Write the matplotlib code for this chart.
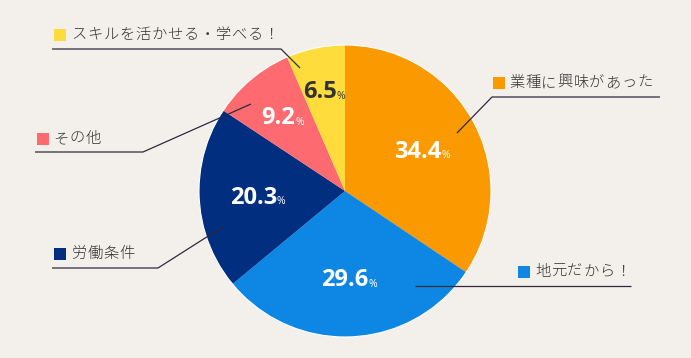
import numpy as np
import matplotlib
matplotlib.use('Agg')
import matplotlib.pyplot as plt
from matplotlib.patches import Rectangle, Circle

# data
labels = ['業種に興味があった', '地元だから！', '労働条件', 'その他', 'スキルを活かせる・学べる！']
values = [34.4, 29.6, 20.3, 9.2, 6.5]
colors = ['#fb9a00', '#0d87e3', '#022e80', '#fd6a6f', '#fedc3c']
pct_colors = ['white', 'white', 'white', 'white', '#333333']

W, H = 691, 358
BG = '#f3efeb'
LINE = '#2d2a40'

def py(y):
    # pixel row -> data y
    return H - y

fig = plt.figure(figsize=(W / 100, H / 100), dpi=100)
fig.patch.set_facecolor(BG)
ax = fig.add_axes([0, 0, 1, 1])
ax.set_facecolor(BG)

cx, cy, r = 345, py(191), 146
wedges, _ = ax.pie(values, colors=colors, startangle=90, counterclock=False,
                   center=(cx, cy), radius=r, wedgeprops=dict(linewidth=0))
ax.add_patch(Circle((cx, cy), r, fill=False, edgecolor='white', lw=0.8, zorder=3))
ax.set_xlim(0, W)
ax.set_ylim(0, H)
ax.set_aspect('equal')
ax.axis('off')

renderer = fig.canvas.get_renderer()

# percentage labels: number + small %, centred as a group
pct_dist = [0.6, 0.6, 0.6, 0.667, 0.706]
for w, v, d, c in zip(wedges, values, pct_dist, pct_colors):
    ang = np.deg2rad((w.theta1 + w.theta2) / 2)
    x = cx + d * r * np.cos(ang)
    y = cy + d * r * np.sin(ang)
    t = ax.text(x, y - 2, '%.1f' % v, color=c, fontsize=17, fontweight='bold',
                family='Open Sans', ha='left', va='center', zorder=5)
    p = ax.text(x, y - 6, '%', color=c, fontsize=7.5, family='Open Sans',
                ha='left', va='center', zorder=5)
    wn = t.get_window_extent(renderer).width
    wp = p.get_window_extent(renderer).width
    left = x - (wn + wp) / 2
    t.set_x(left)
    p.set_x(left + wn)

def spaced_text(x, y, s, pitch=16, **kw):
    for ch in s:
        ax.text(x + pitch / 2, y, ch, ha='center', va='center', **kw)
        x += pitch

# legend labels: square left/top, text left, connector points (pixels)
legend_pos = [
    ((493, 77), 509, [(457, 133), (492, 97), (660, 97)]),
    ((518, 266), 535, [(415, 286), (631, 286)]),
    ((54, 248), 71, [(224, 226), (158, 268), (52, 268)]),
    ((37, 133), 53, [(251, 104), (143, 152), (35, 152)]),
    ((54, 29), 71, [(300, 68), (281, 49), (52, 49)]),
]
for lab, col, (sq, tx, pts) in zip(labels, colors, legend_pos):
    ax.add_patch(Rectangle((sq[0], py(sq[1] + 12)), 12, 12, color=col, lw=0, zorder=4))
    spaced_text(tx, py(sq[1] + 6), lab, color='#333333', fontsize=11,
                family=['Noto Sans CJK JP', 'DejaVu Sans'], fontweight='light', zorder=4)
    xs = [p[0] for p in pts]
    ys = [py(p[1]) for p in pts]
    ax.plot(xs, ys, color=LINE, lw=0.9, zorder=6, solid_capstyle='butt')

fig.savefig('out.png', dpi=100, facecolor=BG)
